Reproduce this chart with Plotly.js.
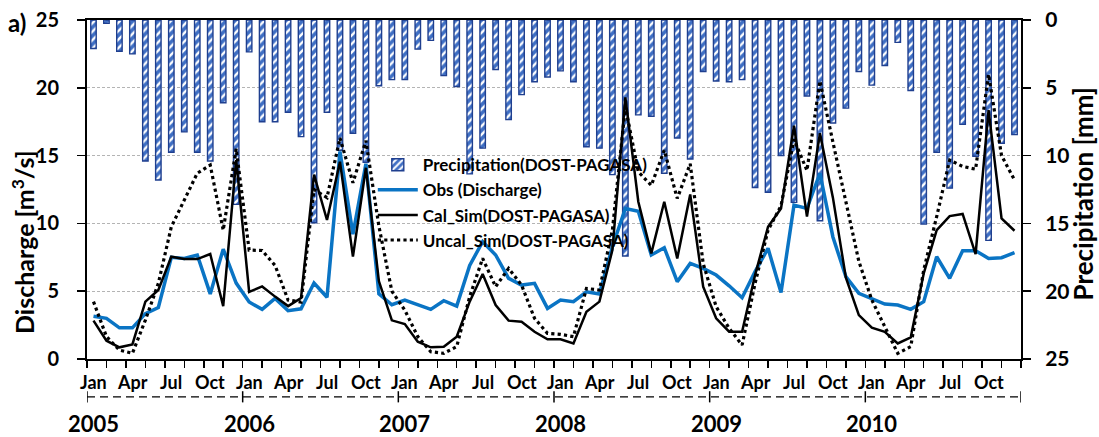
<!DOCTYPE html>
<html>
<head>
<meta charset="utf-8">
<script src="https://cdn.plot.ly/plotly-3.0.1.min.js"></script>
<style>html,body{margin:0;padding:0;background:#fff;}#chart{width:1099px;height:437px;}</style>
</head>
<body>
<div id="chart"></div>
<script>
// Monthly series, Jan 2005 - Dec 2010
const years = ['2005', '2006', '2007', '2008', '2009', '2010'];
const monthTickLabels = ['Jan', 'Apr', 'Jul', 'Oct'];
const precipitation = [
  2.1, 0.25, 2.3, 2.5, 10.4, 11.8, 9.75, 8.25, 9.75, 10.4, 6.1, 13.6,
  2.35, 7.5, 7.5, 6.8, 8.6, 14.95, 6.8, 9.6, 8.35, 10.5, 4.85, 4.4,
  4.4, 2.15, 1.5, 4.1, 4.9, 11.35, 9.45, 3.65, 7.35, 5.5, 4.55, 4.2,
  3.75, 4.55, 9.35, 9.45, 11.4, 17.4, 7.0, 7.1, 11.3, 8.7, 10.25, 3.8,
  4.5, 4.55, 4.4, 12.35, 12.7, 10.0, 13.45, 5.6, 14.8, 7.6, 6.5, 3.8,
  4.8, 3.35, 1.65, 5.2, 15.05, 9.75, 12.4, 7.7, 10.05, 16.25, 9.1, 8.45
];
const obsDischarge = [
  3.15, 3.0, 2.3, 2.3, 3.35, 3.8, 7.5, 7.42, 7.67, 4.8, 8.1, 5.6,
  4.2, 3.66, 4.47, 3.56, 3.7, 5.6, 4.55, 15.3, 9.2, 14.4, 4.8, 4.0,
  4.35, 4.0, 3.66, 4.3, 3.9, 6.9, 8.65, 7.67, 5.95, 5.45, 5.58, 3.73,
  4.35, 4.23, 4.96, 4.79, 8.28, 11.1, 10.9, 7.67, 8.21, 5.7, 7.05, 6.68,
  6.19, 5.4, 4.52, 6.44, 8.16, 4.9, 11.35, 11.1, 13.7, 9.0, 6.07, 4.84,
  4.47, 4.05, 3.98, 3.66, 4.23, 7.54, 5.95, 7.99, 7.99, 7.42, 7.47, 7.84
];
const calSim = [
  2.83, 1.35, 0.86, 1.08, 4.23, 5.09, 7.54, 7.37, 7.37, 7.74, 3.9, 14.67,
  4.95, 5.35, 4.6, 3.9, 4.5, 13.6, 10.25, 14.55, 7.55, 14.1, 5.75, 2.85,
  2.58, 1.28, 0.86, 0.91, 1.65, 4.23, 6.27, 3.98, 2.83, 2.75, 2.01, 1.45,
  1.45, 1.15, 3.49, 4.23, 8.03, 19.3, 11.6, 7.79, 11.6, 7.42, 12.14, 5.33,
  3.0, 2.01, 2.01, 6.19, 9.75, 11.1, 17.2, 10.5, 16.65, 11.9, 6.0, 3.24,
  2.31, 2.01, 1.15, 1.6, 6.31, 9.5, 10.54, 10.7, 7.74, 18.36, 10.37, 9.46
];
const uncalSim = [
  4.23, 1.65, 0.66, 0.42, 2.87, 5.58, 9.75, 11.7, 13.7, 14.3, 9.5, 15.5,
  8.03, 8.0, 6.9, 4.35, 4.2, 12.5, 11.9, 16.3, 13.0, 16.1, 9.8, 5.0,
  3.6, 1.65, 0.54, 0.42, 0.91, 4.6, 7.42, 5.33, 6.68, 5.45, 3.0, 1.89,
  1.82, 1.65, 5.2, 5.09, 9.5, 18.6, 13.8, 12.8, 15.4, 11.84, 14.4, 7.05,
  3.86, 2.26, 1.03, 5.58, 9.5, 11.3, 16.2, 13.9, 20.5, 16.0, 11.5, 7.2,
  4.35, 2.38, 0.42, 0.91, 6.56, 10.5, 14.67, 14.2, 14.0, 21.0, 15.0, 13.2
];

const nMonths = precipitation.length;
const xMid = precipitation.map((_, i) => i + 0.5);
const FONT = 'Lato, "Open Sans", sans-serif';
const bold = (size) => ({family: FONT, size: size, color: '#000', weight: 'bold'});

const traces = [
  {
    type: 'bar', x: xMid, y: precipitation, yaxis: 'y', xaxis: 'x',
    name: 'Precipitation(DOST-PAGASA)', width: 0.42,
    marker: {
      color: '#3f6fc4',
      line: {color: '#1f3f8f', width: 1.4},
      pattern: {shape: '/', fgcolor: '#ffffff', bgcolor: '#3f6fc4', size: 6, solidity: 0.4}
    }
  },
  {
    type: 'scatter', mode: 'lines', x: xMid, y: obsDischarge, yaxis: 'y2', xaxis: 'x',
    name: 'Obs (Discharge)', line: {color: '#0a74c4', width: 3.5}
  },
  {
    type: 'scatter', mode: 'lines', x: xMid, y: calSim, yaxis: 'y2', xaxis: 'x',
    name: 'Cal_Sim(DOST-PAGASA)', line: {color: '#000000', width: 2.5}
  },
  {
    type: 'scatter', mode: 'lines', x: xMid, y: uncalSim, yaxis: 'y2', xaxis: 'x',
    name: 'Uncal_Sim(DOST-PAGASA)', line: {color: '#000000', width: 3.2, dash: 'dot'}
  }
];

// axis decorations: month labels, year bracket and year labels
const annotations = [];
const shapes = [];
for (let i = 0; i < nMonths; i += 3) {
  annotations.push({
    x: i + 0.5, y: -0.068, xref: 'x', yref: 'paper', showarrow: false,
    text: monthTickLabels[(i % 12) / 3], yanchor: 'middle',
    font: bold(18)
  });
}
years.forEach((yr, k) => {
  annotations.push({
    x: k * 12 + 0.5, y: -0.19, xref: 'x', yref: 'paper', showarrow: false,
    text: yr, yanchor: 'middle', font: bold(22)
  });
});
for (let k = 0; k <= years.length; k++) {
  shapes.push({type: 'line', xref: 'x', yref: 'paper', x0: k * 12, x1: k * 12,
    y0: -0.095, y1: -0.128, line: {color: '#000', width: 1.5}});
}
shapes.push({type: 'line', xref: 'x', yref: 'paper', x0: 0, x1: nMonths,
  y0: -0.112, y1: -0.112, line: {color: '#000', width: 1.3, dash: '8px,5px'}});

annotations.push({x: -0.068, y: 0.5, xref: 'paper', yref: 'paper', showarrow: false,
  text: 'Discharge [m<sup>3</sup>/s]', textangle: -90, xanchor: 'center', yanchor: 'middle',
  font: bold(25), yshift: -52});
annotations.push({x: 1.0, y: 0.5, xref: 'paper', yref: 'paper', showarrow: false,
  text: 'Precipitation [mm]', textangle: -90, xanchor: 'center', yanchor: 'middle',
  font: bold(26), xshift: 61, yshift: -5});
annotations.push({x: 0, y: 1, xref: 'paper', yref: 'paper', showarrow: false,
  text: 'a)', xanchor: 'left', yanchor: 'middle', xshift: -81, yshift: -2,
  font: bold(24)});

const layout = {
  width: 1099, height: 437,
  margin: {l: 87, r: 78, t: 20, b: 78},
  paper_bgcolor: '#ffffff', plot_bgcolor: '#ffffff',
  showlegend: true,
  legend: {
    x: 0.306, y: 0.625, xanchor: 'left', yanchor: 'top',
    bgcolor: 'rgba(0,0,0,0)', traceorder: 'normal',
    font: bold(17), itemwidth: 40, tracegroupgap: 0
  },
  bargap: 0,
  xaxis: {
    range: [0, nMonths], tick0: 0, dtick: 1.5, ticks: 'outside', ticklen: 7,
    tickwidth: 1.5, tickcolor: '#000', showticklabels: false,
    showline: true, linecolor: '#000', linewidth: 2, mirror: true,
    showgrid: false, zeroline: false, fixedrange: true
  },
  yaxis: {
    range: [25, 0], side: 'right', dtick: 5, tick0: 0,
    ticks: 'outside', ticklen: 8, tickwidth: 1.5, tickcolor: '#000',
    ticklabelstandoff: 10,
    showline: true, linecolor: '#000', linewidth: 2,
    showgrid: false, zeroline: false,
    tickfont: bold(21)
  },
  yaxis2: {
    range: [0, 25], side: 'left', overlaying: 'y', dtick: 5, tick0: 0,
    ticks: 'outside', ticklen: 8, tickwidth: 1.5, tickcolor: '#000',
    ticklabelstandoff: 14,
    showline: true, linecolor: '#000', linewidth: 2,
    showgrid: true, gridcolor: '#b4b4b4', gridwidth: 1, griddash: '3px,2px',
    zeroline: false,
    tickfont: bold(20)
  },
  annotations: annotations,
  shapes: shapes
};

Plotly.newPlot('chart', traces, layout, {staticPlot: true, displayModeBar: false});
</script>
</body>
</html>
